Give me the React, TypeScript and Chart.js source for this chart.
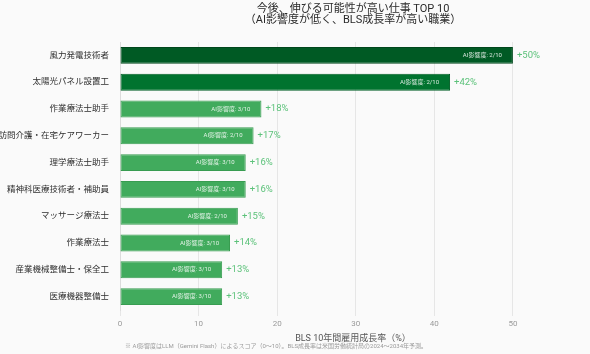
import React, { useEffect, useRef } from "react";
import { Chart, registerables } from "chart.js";

Chart.register(...registerables);

const occupations = [
  "風力発電技術者",
  "太陽光パネル設置工",
  "作業療法士助手",
  "訪問介護・在宅ケアワーカー",
  "理学療法士助手",
  "精神科医療技術者・補助員",
  "マッサージ療法士",
  "作業療法士",
  "産業機械整備士・保全工",
  "医療機器整備士",
];
const growthRates = [50, 42, 18, 17, 16, 16, 15, 14, 13, 13];
const aiScores = [2, 2, 3, 2, 3, 3, 2, 3, 3, 3];
const xTicks = [0, 10, 20, 30, 40, 50];
const titleLines = ["今後、伸びる可能性が高い仕事 TOP 10", "（AI影響度が低く、BLS成長率が高い職業）"];
const xAxisTitle = "BLS 10年間雇用成長率（%）";
const footnote = "※ AI影響度はLLM（Gemini Flash）によるスコア（0〜10）。BLS成長率は米国労働統計局の2024〜2034年予測。";

const FONT = "Roboto, 'Noto Sans CJK JP', 'Noto Sans', sans-serif";
const X_MAX = 59.3;

const barFill = (i: number) => (i === 0 ? "#005a24" : i === 1 ? "#00732f" : "#41ab5d");
const barBorder = (i: number) => (i === 0 ? "#00471c" : i === 1 ? "#005f26" : "#389c51");

export default function App() {
  const ref = useRef<HTMLCanvasElement | null>(null);

  useEffect(() => {
    if (!ref.current) return;

    const bgPlugin = {
      id: "bg",
      beforeDraw(chart: any) {
        const { ctx, width, height } = chart;
        ctx.save();
        ctx.fillStyle = "#fafafa";
        ctx.fillRect(0, 0, width, height);
        ctx.restore();
      },
    };

    const overlayPlugin = {
      id: "overlay",
      afterDatasetsDraw(chart: any) {
        const { ctx, chartArea } = chart;
        const meta = chart.getDatasetMeta(0);
        ctx.save();
        meta.data.forEach((bar: any, i: number) => {
          ctx.textBaseline = "middle";
          ctx.textAlign = "right";
          ctx.fillStyle = "rgba(255,255,255,0.85)";
          ctx.font = `6px ${FONT}`;
          ctx.fillText(`AI影響度: ${aiScores[i]}/10`, bar.x - 11, bar.y);
          ctx.textAlign = "left";
          ctx.fillStyle = "#5cc27a";
          ctx.font = `9.5px ${FONT}`;
          ctx.fillText(`+${growthRates[i]}%`, bar.x + 4, bar.y);
        });
        // title
        const cx = (chartArea.left + chartArea.right) / 2;
        ctx.textAlign = "center";
        ctx.fillStyle = "#2a2a2a";
        ctx.font = `11px ${FONT}`;
        ctx.fillText(titleLines[0], cx, 9);
        ctx.fillText(titleLines[1], cx, 20.5);
        // footnote
        ctx.textAlign = "left";
        ctx.fillStyle = "#9a9a9a";
        ctx.font = `6px ${FONT}`;
        ctx.fillText(footnote, 125, 346);
        ctx.restore();
      },
    };

    const chart = new Chart(ref.current, {
      type: "bar",
      data: {
        labels: occupations,
        datasets: [
          {
            data: growthRates,
            backgroundColor: growthRates.map((_, i) => barFill(i)),
            borderColor: growthRates.map((_, i) => barBorder(i)),
            borderWidth: 1,
            borderSkipped: false,
            barPercentage: 0.7,
            categoryPercentage: 0.9,
          },
        ],
      },
      options: {
        indexAxis: "y",
        responsive: false,
        animation: false,
        layout: { padding: { top: 42, right: 4, bottom: 0, left: 0 } },
        plugins: {
          legend: { display: false },
          tooltip: { enabled: false },
          title: { display: false },
        },
        scales: {
          x: {
            min: 0,
            max: X_MAX,
            afterBuildTicks: (scale: any) => {
              scale.ticks = xTicks.map((v) => ({ value: v }));
            },
            afterFit: (scale: any) => {
              scale.height = 44;
            },
            ticks: {
              stepSize: 10,
              includeBounds: false,
              color: "#9a9a9a",
              font: { family: FONT, size: 8 },
              padding: 3,
            },
            grid: { color: "#e6e6e6", tickLength: 6, lineWidth: 1 },
            border: { display: false },
            title: {
              display: true,
              text: xAxisTitle,
              color: "#555",
              font: { family: FONT, size: 9 },
              padding: { top: 2, bottom: 10 },
            },
          },
          y: {
            afterFit: (scale: any) => {
              scale.width = 120;
            },
            grid: { display: false },
            border: { display: true, color: "#dcdcdc" },
            ticks: {
              color: "#2e2e2e",
              font: { family: FONT, size: 8.5 },
              padding: 3,
            },
          },
        },
      },
      plugins: [bgPlugin, overlayPlugin],
    } as any);

    return () => chart.destroy();
  }, []);

  return (
    <div style={{ position: "fixed", left: 0, top: 0, width: 590, height: 354, background: "#fafafa" }}>
      <canvas ref={ref} width={590} height={354} style={{ display: "block", width: 590, height: 354 }} />
    </div>
  );
}
